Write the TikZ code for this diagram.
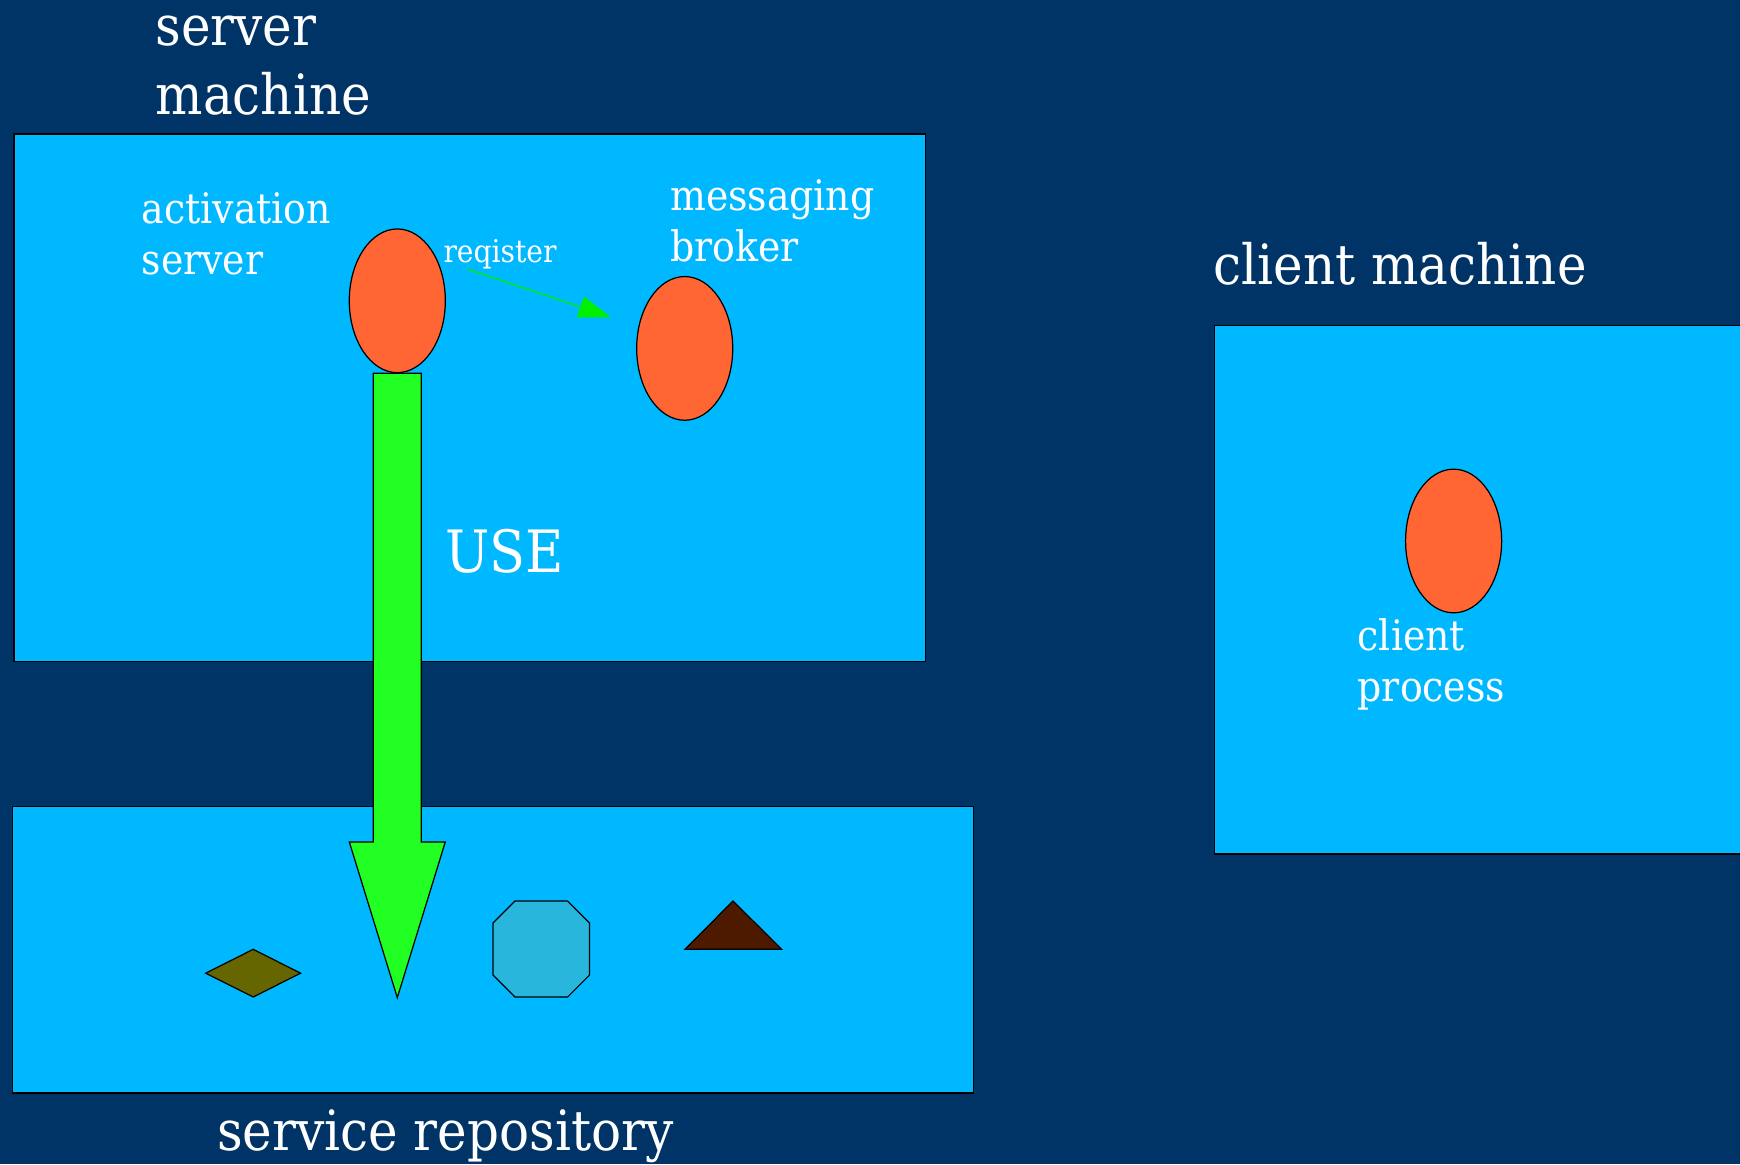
\documentclass[tikz,border=0pt]{standalone}
\usepackage{fontspec}
\setmainfont{DejaVu Serif Condensed}
\usetikzlibrary{shapes.geometric}
\definecolor{bgnavy}{RGB}{0,51,102}
\definecolor{boxblue}{RGB}{0,184,255}
\definecolor{procorange}{RGB}{255,102,51}
\definecolor{usegreen}{RGB}{34,255,34}
\definecolor{reggreen}{RGB}{0,240,0}
\definecolor{olive}{RGB}{102,102,0}
\definecolor{octblue}{RGB}{41,182,220}
\definecolor{brown}{RGB}{77,26,0}
\begin{document}
\begin{tikzpicture}[x=0.01cm,y=-0.01cm,
  box/.style={draw=black,line width=0.35pt,fill=boxblue,anchor=north west,inner sep=0pt},
  proc/.style={ellipse,draw=black,line width=0.35pt,fill=procorange,inner sep=0pt,minimum width=0.96cm,minimum height=1.436cm},
  shapeline/.style={draw=black,line width=0.35pt},
  bigtxt/.style={text=white,inner sep=0pt,anchor=base west,align=left,font=\fontsize{15.8pt}{19.9pt}\selectfont},
  midtxt/.style={text=white,inner sep=0pt,anchor=base west,align=left,font=\fontsize{11.95pt}{14.7pt}\selectfont},
  smalltxt/.style={text=white,inner sep=0pt,anchor=base west,font=\fontsize{8.9pt}{10.5pt}\selectfont}]
% background
\fill[bgnavy] (0,0) rectangle (1740,1164);
\useasboundingbox (0,0) rectangle (1740,1164);
\begin{scope}
\clip (0,0) rectangle (1740,1164);
% boxes
\node[box,minimum width=9.111cm,minimum height=5.268cm] (server) at (13.3,133.5) {};
\node[box,minimum width=9.599cm,minimum height=2.867cm] (repo) at (12.2,805.6) {};
\node[box,minimum width=5.6cm,minimum height=5.28cm] (client) at (1214,325) {};
\end{scope}
% processes
\node[proc] (act) at (397.3,300.8) {};
\node[proc] (broker) at (684.7,348.4) {};
\node[proc] (cproc) at (1453.6,541) {};
% USE arrow
\path[shapeline,fill=usegreen] (act.south) ++(-24,0) -- ++(48,0) -- ++(0,468.7)
  -- ++(24,0) -- ++(-48,155.7) -- ++(-48,-155.7) -- ++(24,0) -- cycle;
% register arrow
\coordinate (regS) at (467.7,269.3);
\coordinate (regE) at (580,306.7);
\coordinate (regT) at (611,317.3);
\draw[reggreen,line width=0.35pt] (regS) -- (regE);
\fill[reggreen] (584,296.7) -- (regT) -- (576.7,317.3) -- cycle;
% repository shapes
\path[shapeline,fill=olive] (205.7,973.2) -- (253.2,949.3) -- (300.6,973.2) -- (253.2,997) -- cycle;
\path[shapeline,fill=octblue] (515,901) -- (567.6,901) -- (589.6,923) -- (589.6,975)
  -- (567.6,997) -- (515,997) -- (493,975) -- (493,923) -- cycle;
\path[shapeline,fill=brown] (685,949.3) -- (733,901) -- (781.6,949.3) -- cycle;
% labels (base anchor = baseline of last line)
\node[bigtxt] (lserver) at (155,115) {server\\machine};
\node[bigtxt] (lclient) at (1213,285) {client machine};
\node[bigtxt] (lrepo) at (216.5,1150) {service repository};
\node[bigtxt,font=\fontsize{16.6pt}{19.9pt}\selectfont] (luse) at (445,572.7) {USE};
\node[midtxt] (lact) at (141,275) {activation\\server};
\node[midtxt] (lbroker) at (669.5,261.7) {messaging\\broker};
\node[midtxt] (lcproc) at (1357,701.7) {client\\process};
\node[smalltxt] (lreg) at (442.8,262.3) {reqister};
\end{tikzpicture}
\end{document}
